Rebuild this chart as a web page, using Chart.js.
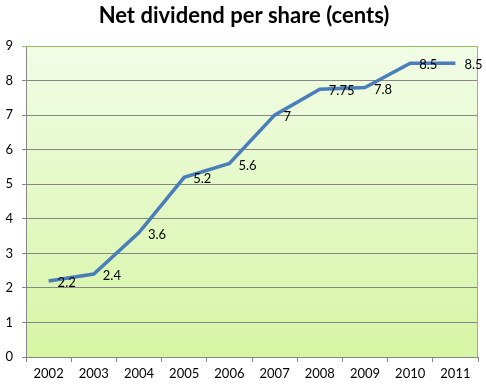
<!DOCTYPE html>
<html><head><meta charset="utf-8">
<script src="https://cdn.jsdelivr.net/npm/chart.js@4/dist/chart.umd.min.js"></script>
<style>html,body{margin:0;padding:0;background:#fff}#wrap{width:486px;height:387px}</style>
</head><body><div id="wrap"><canvas id="c"></canvas></div>
<script>
const chartTitle = "Net dividend per share (cents)";
const years = ["2002","2003","2004","2005","2006","2007","2008","2009","2010","2011"];
const dividend = [2.2, 2.4, 3.6, 5.2, 5.6, 7, 7.75, 7.8, 8.5, 8.5];
const yTicks = [0,1,2,3,4,5,6,7,8,9];

const FONT = "Lato, 'Open Sans', sans-serif";

const decor = {
  id: 'decor',
  beforeDraw(chart) {
    const {ctx, chartArea: a} = chart;
    const g = ctx.createLinearGradient(0, a.top, 0, a.bottom);
    g.addColorStop(0, '#f1fce6');
    g.addColorStop(1, '#d6f5a4');
    ctx.save();
    ctx.fillStyle = g;
    ctx.fillRect(a.left, a.top, a.right - a.left, a.bottom - a.top);
    ctx.restore();
  },
  afterDatasetsDraw(chart) {
    const {ctx, chartArea: a} = chart;
    ctx.save();
    ctx.strokeStyle = '#9bbb59';
    ctx.lineWidth = 1;
    ctx.beginPath();
    ctx.moveTo(a.left, a.top + 0.5);
    ctx.lineTo(a.right - 0.5, a.top + 0.5);
    ctx.lineTo(a.right - 0.5, a.bottom);
    ctx.stroke();
    const meta = chart.getDatasetMeta(0);
    ctx.fillStyle = '#000';
    ctx.font = "13px " + FONT;
    ctx.textAlign = 'left';
    ctx.textBaseline = 'middle';
    meta.data.forEach((pt, i) => {
      ctx.fillText(String(dividend[i]), pt.x + 9, pt.y + 2);
    });
    ctx.font = "bold 22px " + FONT;
    ctx.textAlign = 'center';
    ctx.fillText(chartTitle, 244, 16);
    ctx.restore();
  }
};

new Chart(document.getElementById('c'), {
  type: 'line',
  data: {
    labels: years,
    datasets: [{
      data: dividend,
      borderColor: '#4a7ebb',
      borderWidth: 3.5,
      pointRadius: 0,
      tension: 0,
      fill: false
    }]
  },
  options: {
    responsive: true,
    maintainAspectRatio: false,
    animation: false,
    layout: { padding: { top: 46, right: 8, left: 0, bottom: 0 } },
    plugins: { legend: { display: false }, tooltip: { enabled: false }, title: { display: false } },
    scales: {
      x: {
        offset: true,
        grid: { offset: true, drawOnChartArea: false, drawTicks: true, tickLength: 5, color: '#868686' },
        border: { color: '#868686', width: 1 },
        ticks: { color: '#000', font: { family: FONT, size: 13 }, padding: 4, maxRotation: 0, autoSkip: false },
        afterFit(s) { s.height = 30; }
      },
      y: {
        min: 0, max: 9,
        afterBuildTicks(s) { s.ticks = yTicks.map(v => ({ value: v })); },
        grid: { color: (c) => c.tick && c.tick.value === 9 ? '#9bbb59' : '#868686', tickLength: 4, drawTicks: true },
        border: { color: '#868686', width: 1 },
        ticks: { color: '#000', font: { family: FONT, size: 13 }, padding: 9 },
        afterFit(s) { s.width = 26; }
      }
    }
  },
  plugins: [decor]
});
</script></body></html>
